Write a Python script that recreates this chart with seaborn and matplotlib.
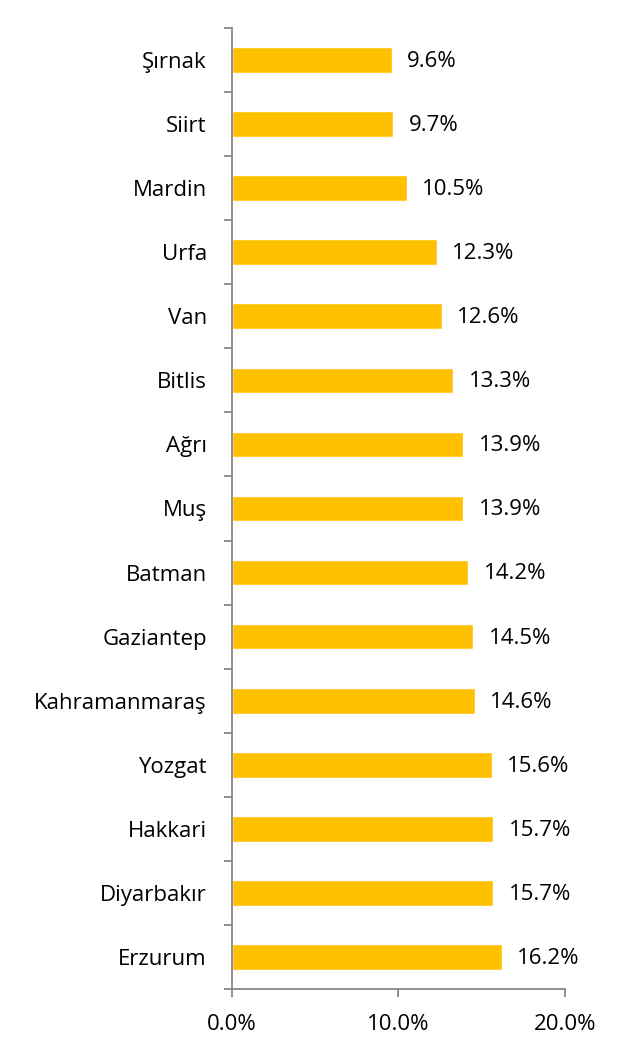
import matplotlib
matplotlib.use("Agg")
import matplotlib.pyplot as plt
import pandas as pd
import seaborn as sns
from matplotlib.ticker import PercentFormatter

provinces = ["Şırnak", "Siirt", "Mardin", "Urfa", "Van", "Bitlis", "Ağrı", "Muş",
             "Batman", "Gaziantep", "Kahramanmaraş", "Yozgat", "Hakkari",
             "Diyarbakır", "Erzurum"]
shares = [9.6, 9.7, 10.5, 12.3, 12.6, 13.3, 13.9, 13.9,
          14.2, 14.5, 14.6, 15.6, 15.7, 15.7, 16.2]
x_ticks = [0, 10, 20]

df = pd.DataFrame({"province": provinces, "share": shares})

sns.set_style("white")
plt.rcParams["font.family"] = ["Open Sans", "DejaVu Sans"]
plt.rcParams["text.color"] = "black"
plt.rcParams["xtick.labelcolor"] = "black"
plt.rcParams["ytick.labelcolor"] = "black"

fig = plt.figure(figsize=(6.35, 10.59), dpi=100)
ax = fig.add_axes([0.365, 0.0661, 0.525, 0.9075])

sns.barplot(data=df, y="province", x="share", color="#FFC000", saturation=1,
            width=0.4, orient="h", ax=ax)

spine_col = "#878787"
for side in ["top", "right"]:
    ax.spines[side].set_visible(False)
for side in ["left", "bottom"]:
    ax.spines[side].set_color(spine_col)
    ax.spines[side].set_linewidth(1.3)

ax.set_xlim(0, 20)
ax.set_ylim(len(provinces) - 0.5, -0.5)
ax.set_xticks(x_ticks)
ax.xaxis.set_major_formatter(PercentFormatter(decimals=1))
ax.set_yticks(range(len(provinces)))
ax.set_yticklabels(provinces)
ax.set_yticks([i - 0.5 for i in range(len(provinces) + 1)], minor=True)
ax.tick_params(axis="y", which="major", length=0, pad=18, labelsize=16, labelcolor="black")
ax.tick_params(axis="y", which="minor", length=6, color=spine_col, width=1.3, left=True)
ax.tick_params(axis="x", which="major", length=6, color=spine_col, width=1.3,
               bottom=True, pad=12, labelsize=16, labelcolor="black")
ax.set_xlabel("")
ax.set_ylabel("")

for i, v in enumerate(shares):
    ax.annotate(f"{v:.1f}%", xy=(v, i), xytext=(11, -1), textcoords="offset points",
                va="center", ha="left", fontsize=16, color="black")

fig.savefig("out.png", dpi=100)
